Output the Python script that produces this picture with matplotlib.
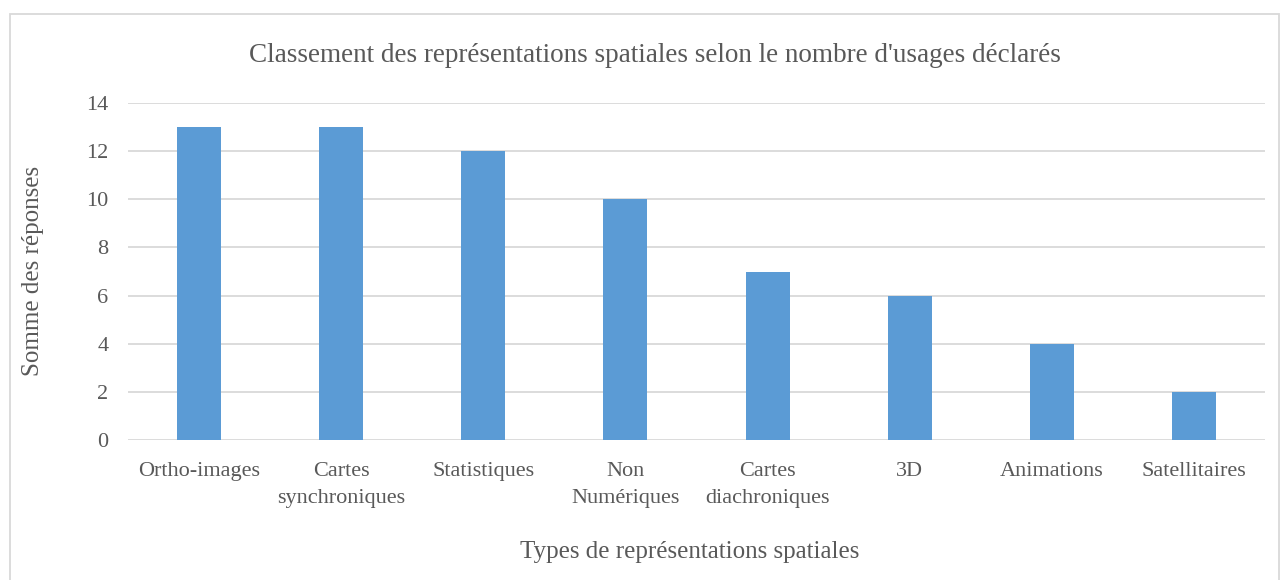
import matplotlib.pyplot as plt
from matplotlib.patches import Rectangle

# Data
categories = ['Ortho-images', 'Cartes\nsynchroniques', 'Statistiques', 'Non\nNumériques',
              'Cartes\ndiachroniques', '3D', 'Animations', 'Satellitaires']
responses = [13, 13, 12, 10, 7, 6, 4, 2]
y_ticks = [0, 2, 4, 6, 8, 10, 12, 14]

text_color = '#595959'
grid_color = '#D9D9D9'
bar_color = '#5B9BD5'

plt.rcParams['font.family'] = ['Liberation Serif', 'DejaVu Serif']

fig = plt.figure(figsize=(12.82, 5.80), dpi=100)
ax = fig.add_axes([128 / 1282, 1 - 440 / 580, (1265 - 128) / 1282, (440 - 103) / 580])

x = range(len(categories))
ax.bar(x, responses, width=0.31, color=bar_color, zorder=3)

ax.set_xlim(-0.5, len(categories) - 0.5)
ax.set_ylim(0, 14)
ax.set_yticks(y_ticks)
ax.set_xticks(list(x))
ax.set_xticklabels(categories, fontsize=16, color=text_color, linespacing=1.55)
ax.tick_params(axis='y', labelsize=16, labelcolor=text_color, length=0, pad=14)
ax.tick_params(axis='x', length=0, pad=16)
ax.grid(axis='y', color=grid_color, linewidth=1.3, zorder=0)
for s in ax.spines.values():
    s.set_visible(False)

fig.text(33 / 1282, 1 - 271 / 580, 'Somme des réponses', fontsize=18, color=text_color,
         rotation=90, ha='center', va='center')
fig.text(690 / 1282, 1 - 552 / 580, 'Types de représentations spatiales', fontsize=18,
         color=text_color, ha='center', va='center')
fig.text(655 / 1282, 1 - 55 / 580,
         "Classement des représentations spatiales selon le nombre d'usages déclarés",
         fontsize=19.5, color=text_color, ha='center', va='center')

# Chart border
fig.patches.append(Rectangle((10 / 1282, -0.1), (1279 - 10) / 1282, 1.1 - 14 / 580,
                             transform=fig.transFigure, fill=False,
                             edgecolor=grid_color, linewidth=1.3))

fig.savefig('out.png', dpi=100)
